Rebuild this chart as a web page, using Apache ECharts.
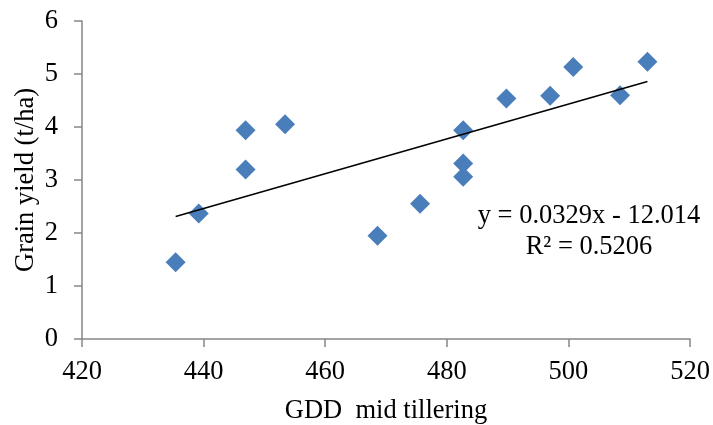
<!DOCTYPE html>
<html>
<head>
<meta charset="utf-8">
<script src="https://cdn.jsdelivr.net/npm/echarts@6/dist/echarts.min.js"></script>
<style>
html,body{margin:0;padding:0;background:#fff;}
#chart{width:713px;height:425px;}
</style>
</head>
<body>
<div id="chart"></div>
<script>
// GDD mid tillering (x) and grain yield t/ha (y)
var gdd   = [435.4, 439.2, 446.9, 446.9, 453.4, 468.6, 475.6, 482.7, 482.7, 482.7, 489.8, 497.0, 500.8, 508.5, 513.0];
var yieldTHa = [1.45, 2.37, 3.94, 3.20, 4.05, 1.95, 2.55, 3.94, 3.31, 3.06, 4.54, 4.59, 5.13, 4.60, 5.23];
// linear trendline endpoints
var trendX = [435.4, 513.0];
var trendY = [2.31, 4.86];
var xTicks = [420, 440, 460, 480, 500, 520];
var yTicks = [0, 1, 2, 3, 4, 5, 6];
var eqText = 'y = 0.0329x - 12.014';
var r2Text = 'R\u00B2 = 0.5206';
var xTitle = 'GDD  mid tillering';
var yTitle = 'Grain yield (t/ha)';

var pts = gdd.map(function(v, i){ return [v, yieldTHa[i]]; });
var trend = trendX.map(function(v, i){ return [v, trendY[i]]; });

var font = '"Liberation Serif", "Times New Roman", serif';
var fs = 26.5;
var axisGray = '#868686';

var chart = echarts.init(document.getElementById('chart'), null, {renderer: 'canvas'});
chart.setOption({
  animation: false,
  backgroundColor: '#ffffff',
  grid: {left: 82, right: 23, top: 21, bottom: 86, containLabel: false, outerBoundsMode: 'none'},
  xAxis: {
    type: 'value',
    min: xTicks[0], max: xTicks[xTicks.length - 1], interval: 20,
    name: xTitle, nameLocation: 'middle', nameGap: 59, nameMoveOverlap: false,
    nameTextStyle: {fontFamily: font, fontSize: fs, color: '#000'},
    axisLine: {show: true, onZero: false, lineStyle: {color: axisGray, width: 1.5}},
    axisTick: {show: true, inside: false, length: 8, lineStyle: {color: axisGray, width: 1.5}},
    axisLabel: {fontFamily: font, fontSize: fs, color: '#000', margin: 20},
    splitLine: {show: false}
  },
  yAxis: {
    type: 'value',
    min: yTicks[0], max: yTicks[yTicks.length - 1], interval: 1,
    name: yTitle, nameLocation: 'middle', nameGap: 42, nameRotate: 90, nameMoveOverlap: false,
    nameTextStyle: {fontFamily: font, fontSize: fs, color: '#000'},
    axisLine: {show: true, onZero: false, lineStyle: {color: axisGray, width: 1.5}},
    axisTick: {show: true, inside: false, length: 8, lineStyle: {color: axisGray, width: 1.5}},
    axisLabel: {fontFamily: font, fontSize: fs, color: '#000', margin: 24},
    splitLine: {show: false}
  },
  series: [
    {
      type: 'line',
      data: trend,
      showSymbol: false,
      symbol: 'none',
      lineStyle: {color: '#000', width: 1.5},
      z: 3
    },
    {
      type: 'scatter',
      data: pts,
      symbol: 'diamond',
      symbolSize: 20,
      itemStyle: {color: '#4A7EBB', opacity: 1},
      z: 2
    }
  ],
  graphic: [
    {type: 'text', position: [589, 203], style: {text: eqText, font: fs + 'px ' + font, fill: '#000', textAlign: 'center', textVerticalAlign: 'top'}},
    {type: 'text', position: [589, 234], style: {text: r2Text, font: fs + 'px ' + font, fill: '#000', textAlign: 'center', textVerticalAlign: 'top'}}
  ]
});
</script>
</body>
</html>
